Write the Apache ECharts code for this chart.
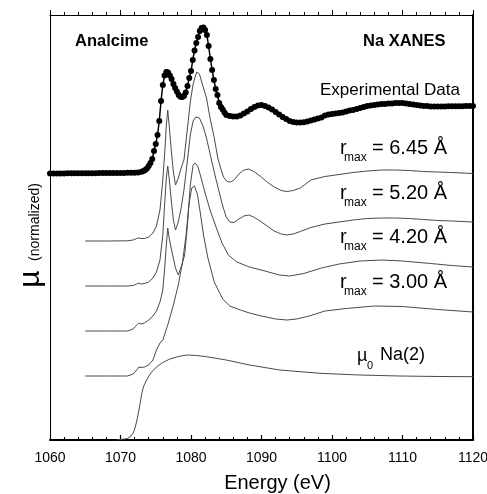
<!DOCTYPE html>
<html><head><meta charset="utf-8">
<script src="https://cdn.jsdelivr.net/npm/echarts@6.0.0/dist/echarts.min.js"></script>
<style>html,body{margin:0;padding:0;background:#fff}#c{width:487px;height:494px}</style>
</head><body><div id="c"></div>
<script>
// Energy axis ticks (eV)
const energyTicks = [1060, 1070, 1080, 1090, 1100, 1110, 1120];

// Experimental data (filled dots)
const expEnergy = [1060,1060.5,1061,1061.5,1062,1062.5,1063,1063.5,1064,1064.5,1065,1065.5,1066,1066.5,1067,1067.5,1068,1068.5,1069,1069.5,1070,1070.5,1071,1071.5,1072,1072.5,1073,1073.25,1073.5,1073.75,1074,1074.25,1074.5,1074.75,1075,1075.25,1075.5,1075.75,1076,1076.25,1076.5,1076.75,1077,1077.25,1077.5,1077.75,1078,1078.25,1078.5,1078.75,1079,1079.25,1079.5,1079.75,1080,1080.25,1080.5,1080.75,1081,1081.25,1081.5,1081.75,1082,1082.25,1082.5,1082.75,1083,1083.25,1083.5,1083.75,1084,1084.25,1084.5,1084.75,1085,1085.5,1086,1086.5,1087,1087.5,1088,1088.5,1089,1089.5,1090,1090.5,1091,1091.5,1092,1092.5,1093,1093.5,1094,1094.5,1095,1095.5,1096,1096.5,1097,1097.5,1098,1098.5,1099,1099.5,1100,1100.5,1101,1101.5,1102,1102.5,1103,1103.5,1104,1104.5,1105,1105.5,1106,1106.5,1107,1107.5,1108,1108.5,1109,1109.5,1110,1110.5,1111,1111.5,1112,1112.5,1113,1113.5,1114,1114.5,1115,1115.5,1116,1116.5,1117,1117.5,1118,1118.5,1119,1119.5,1120];
const expMu = [2.665,2.665,2.666,2.666,2.666,2.667,2.667,2.667,2.667,2.668,2.668,2.668,2.668,2.668,2.669,2.669,2.669,2.67,2.67,2.67,2.671,2.671,2.672,2.672,2.673,2.675,2.682,2.69,2.70,2.715,2.74,2.77,2.81,2.89,2.96,3.05,3.19,3.39,3.55,3.645,3.68,3.675,3.645,3.61,3.56,3.52,3.485,3.45,3.432,3.43,3.44,3.475,3.54,3.62,3.69,3.80,3.895,3.97,4.03,4.09,4.12,4.125,4.10,4.05,3.94,3.81,3.70,3.60,3.51,3.45,3.37,3.33,3.305,3.275,3.25,3.24,3.235,3.235,3.245,3.265,3.285,3.31,3.33,3.345,3.35,3.34,3.325,3.305,3.28,3.255,3.23,3.21,3.19,3.18,3.176,3.175,3.177,3.185,3.195,3.205,3.215,3.225,3.245,3.255,3.26,3.265,3.27,3.275,3.285,3.295,3.30,3.31,3.32,3.33,3.34,3.345,3.35,3.355,3.36,3.36,3.365,3.365,3.37,3.37,3.37,3.365,3.36,3.355,3.35,3.345,3.34,3.34,3.335,3.335,3.335,3.335,3.336,3.337,3.338,3.338,3.338,3.338,3.339,3.34,3.34];

// r_max = 6.45 Å
const r645Energy = [1065,1068,1071,1071.8,1072.3,1072.6,1072.9,1073.4,1074.0,1074.6,1075.1,1075.6,1076.0,1076.3,1076.5,1076.7,1076.9,1077.2,1077.5,1077.8,1078.2,1078.6,1079.0,1079.5,1079.9,1080.3,1080.8,1081.2,1081.6,1082.2,1082.7,1083.3,1083.8,1084.2,1084.6,1085.1,1085.6,1086.1,1086.8,1087.5,1088.2,1088.9,1089.8,1090.8,1091.8,1092.8,1093.6,1094.5,1095.5,1097,1099,1101,1103,1105,1107,1109,1111,1113,1115,1117,1120];
const r645Mu = [1.99,1.99,1.992,2.00,2.015,2.022,2.015,2.015,2.03,2.07,2.14,2.30,2.60,2.90,3.15,3.30,3.15,2.90,2.68,2.55,2.62,2.72,2.80,3.12,3.38,3.56,3.68,3.66,3.56,3.42,3.22,3.02,2.82,2.72,2.63,2.585,2.58,2.60,2.66,2.70,2.71,2.685,2.64,2.58,2.53,2.495,2.485,2.495,2.52,2.60,2.635,2.655,2.675,2.69,2.70,2.70,2.695,2.685,2.68,2.675,2.665];

// r_max = 5.20 Å
const r520Energy = [1065,1068,1071,1071.8,1072.3,1072.6,1072.9,1073.4,1074.0,1074.6,1075.1,1075.6,1076.0,1076.3,1076.5,1076.7,1076.9,1077.2,1077.5,1077.8,1078.2,1078.6,1079.0,1079.5,1079.9,1080.3,1080.7,1081.2,1081.7,1082.2,1082.9,1083.5,1084.0,1084.5,1085.0,1085.5,1086.1,1086.8,1087.5,1088.2,1088.9,1089.8,1090.8,1091.8,1092.8,1093.6,1094.5,1095.5,1097,1099,1101,1103,1105,1107,1109,1111,1113,1115,1117,1120];
const r520Mu = [1.54,1.54,1.54,1.545,1.56,1.57,1.56,1.565,1.58,1.62,1.68,1.80,2.05,2.40,2.62,2.74,2.62,2.40,2.20,2.10,2.18,2.32,2.50,2.80,3.05,3.19,3.23,3.22,3.14,3.02,2.80,2.62,2.48,2.34,2.23,2.18,2.175,2.21,2.24,2.25,2.23,2.19,2.14,2.09,2.06,2.05,2.06,2.085,2.125,2.16,2.18,2.20,2.215,2.22,2.22,2.215,2.205,2.195,2.19,2.18];

// r_max = 4.20 Å
const r420Energy = [1065,1068,1071,1071.8,1072.3,1072.6,1072.9,1073.4,1074.0,1074.6,1075.1,1075.6,1076.0,1076.3,1076.5,1076.7,1076.9,1077.3,1077.8,1078.2,1078.7,1079.1,1079.5,1079.9,1080.3,1080.6,1081.0,1081.4,1082.0,1082.7,1083.5,1084.4,1085.3,1086.5,1088.3,1090.5,1092.5,1094,1096,1098.5,1101,1104,1107,1110,1114,1117,1120];
const r420Mu = [1.09,1.09,1.09,1.11,1.15,1.17,1.16,1.17,1.20,1.24,1.29,1.38,1.50,1.75,1.95,2.12,2.02,1.88,1.72,1.65,1.75,1.85,2.15,2.55,2.75,2.77,2.73,2.63,2.47,2.30,2.14,1.97,1.85,1.78,1.73,1.69,1.65,1.64,1.665,1.72,1.76,1.79,1.80,1.79,1.765,1.745,1.73];

// r_max = 3.00 Å
const r300Energy = [1065,1068,1071,1071.8,1072.3,1072.6,1072.9,1073.4,1074.0,1074.6,1075.1,1075.6,1076.0,1076.7,1077.5,1078.2,1078.8,1079.3,1079.7,1080.1,1080.5,1080.9,1081.3,1081.8,1082.4,1083.3,1084.5,1085.5,1087,1088.3,1090,1092,1093.6,1095,1097,1099,1102,1106,1110,1115,1120];
const r300Mu = [0.64,0.64,0.64,0.66,0.70,0.73,0.725,0.73,0.75,0.80,0.90,0.97,1.00,1.15,1.35,1.55,1.78,2.05,2.35,2.52,2.54,2.46,2.28,2.04,1.82,1.58,1.41,1.34,1.30,1.27,1.24,1.21,1.20,1.21,1.245,1.29,1.315,1.34,1.335,1.305,1.28];

// mu_0 Na(2)
const mu0Energy = [1069.5,1070.3,1071.0,1071.5,1071.8,1072.1,1072.4,1072.7,1073.0,1073.3,1073.7,1074.3,1075.1,1076.0,1077.0,1078.2,1079.5,1080.8,1082.2,1085.0,1088.3,1092.6,1098.3,1103.9,1109.6,1115.3,1120];
const mu0Mu = [0.0,0.007,0.015,0.04,0.07,0.13,0.22,0.33,0.46,0.54,0.60,0.67,0.73,0.775,0.81,0.835,0.85,0.845,0.833,0.80,0.75,0.70,0.667,0.65,0.64,0.635,0.633];

// Curve labels
const rmaxLabels = ['= 6.45 Å', '= 5.20 Å', '= 4.20 Å', '= 3.00 Å'];

function pairs(e, m) { return e.map((x, i) => [x, m[i]]); }

const FONT = '"Liberation Sans", Arial, Helvetica, sans-serif';
const chart = echarts.init(document.getElementById('c'), null, {renderer: 'canvas'});

const simLine = (data) => ({
  type: 'line', data: data, symbol: 'none', smooth: false, animation: false,
  lineStyle: {color: '#4a4a4a', width: 1}, z: 2
});

const txt = (x, y, text, size, extra) => Object.assign({type: 'text', x: x, y: y, style: Object.assign({
  text: text, fontSize: size, fontFamily: FONT, fill: '#000',
  align: 'left', verticalAlign: 'middle', textAlign: 'left', textVerticalAlign: 'middle'
}, (extra && extra.style) || {})}, (extra && extra.el) || {});

const rowY = [148, 193, 237, 282];
const graphics = [];
graphics.push(txt(75, 41, 'Analcime', 16.5, {style: {fontWeight: 'bold'}}));
graphics.push(txt(363, 41, 'Na XANES', 16.5, {style: {fontWeight: 'bold'}}));
graphics.push(txt(320, 90, 'Experimental Data', 17));
rmaxLabels.forEach((t, i) => {
  const y = rowY[i];
  graphics.push(txt(340, y, 'r', 20));
  graphics.push(txt(344, y + 10, 'max', 12));
  graphics.push(txt(372, y, t, 20));
});
graphics.push(txt(357, 356, 'µ', 18));
graphics.push(txt(367, 366, '0', 11));
graphics.push(txt(380, 355, 'Na(2)', 18));
graphics.push(txt(31, 279, 'µ', 30, {el: {rotation: Math.PI / 2}, style: {align: 'center', textAlign: 'center'}}));
graphics.push(txt(35, 222, '(normalized)', 14, {el: {rotation: Math.PI / 2}, style: {align: 'center', textAlign: 'center'}}));

chart.setOption({
  animation: false,
  backgroundColor: '#fff',
  grid: {left: 50, right: 14, top: 15, bottom: 54, containLabel: false, outerBoundsMode: 'none', show: false},
  xAxis: [{
    type: 'value', position: 'bottom', min: energyTicks[0], max: energyTicks[energyTicks.length - 1], interval: 10,
    axisLine: {show: true, onZero: false, lineStyle: {color: '#000', width: 2}},
    axisTick: {show: true, inside: true, length: 5, lineStyle: {color: '#000', width: 1.2}},
    minorTick: {show: true, splitNumber: 5, length: 3, lineStyle: {color: '#000', width: 1}},
    axisLabel: {show: true, color: '#000', fontSize: 14, fontFamily: FONT, margin: 11, formatter: (v) => String(v)},
    splitLine: {show: false}, minorSplitLine: {show: false},
    name: 'Energy (eV)', nameLocation: 'middle', nameGap: 33,
    nameTextStyle: {color: '#000', fontSize: 20, fontFamily: FONT, padding: [0, 0, 0, 32]}
  }, {
    type: 'value', position: 'top', min: energyTicks[0], max: energyTicks[energyTicks.length - 1], interval: 10,
    axisLine: {show: true, onZero: false, lineStyle: {color: '#000', width: 1}},
    axisTick: {show: true, inside: false, length: 5, lineStyle: {color: '#000', width: 1}},
    minorTick: {show: true, splitNumber: 5, length: 3, lineStyle: {color: '#000', width: 1}},
    axisLabel: {show: false}, splitLine: {show: false}
  }],
  yAxis: [{
    type: 'value', position: 'left', min: 0, max: 4.25,
    axisLine: {show: true, onZero: false, lineStyle: {color: '#000', width: 1}},
    axisTick: {show: false}, axisLabel: {show: false}, splitLine: {show: false}
  }, {
    type: 'value', position: 'right', min: 0, max: 4.25,
    axisLine: {show: true, onZero: false, lineStyle: {color: '#000', width: 2}},
    axisTick: {show: false}, axisLabel: {show: false}, splitLine: {show: false}
  }],
  series: [
    simLine(pairs(r645Energy, r645Mu)),
    simLine(pairs(r520Energy, r520Mu)),
    simLine(pairs(r420Energy, r420Mu)),
    simLine(pairs(r300Energy, r300Mu)),
    simLine(pairs(mu0Energy, mu0Mu)),
    {
      type: 'line', data: pairs(expEnergy, expMu), symbol: 'circle', symbolSize: 6,
      showSymbol: true, showAllSymbol: true, animation: false,
      itemStyle: {color: '#000', borderWidth: 0}, lineStyle: {color: '#000', width: 1.5}, z: 3
    }
  ],
  graphic: graphics
});
</script>
</body></html>
